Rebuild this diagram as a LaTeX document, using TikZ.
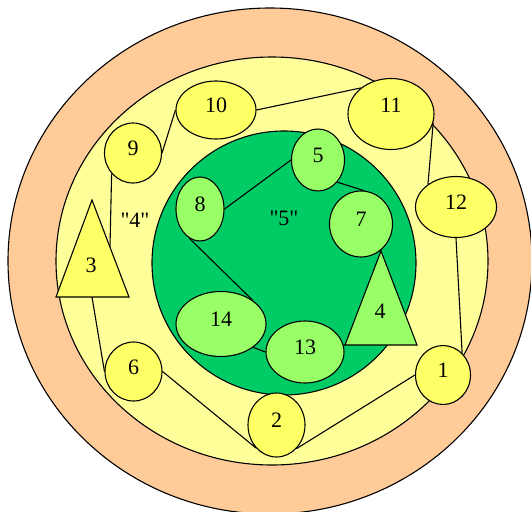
\documentclass[tikz,border=0pt]{standalone}
\usepackage{fontspec}
\setmainfont{Liberation Serif}[Ligatures=TeXOff]
\usetikzlibrary{shapes.geometric,calc}
\definecolor{peach}{HTML}{FFCC99}
\definecolor{paleyel}{HTML}{FFFF99}
\definecolor{nodeyel}{HTML}{FFFF66}
\definecolor{biggreen}{HTML}{00CC66}
\definecolor{litegreen}{HTML}{99FF66}
\tikzset{
  txt/.style={font=\fontsize{22}{26}\selectfont, inner sep=0pt},
  ell/.style={ellipse, draw=black, line width=1.1pt, inner sep=0pt, text height=15pt, text depth=10pt, font=\fontsize{22}{26}\selectfont},
  yel/.style={ell, fill=nodeyel},
  grn/.style={ell, fill=litegreen},
  edge/.style={draw=black, line width=1.1pt},
}
\begin{document}
\begin{tikzpicture}[x=1pt,y=-1pt]
\useasboundingbox (0,0) rectangle (531,512);
\clip (0,0) rectangle (531,512);
% rings
\draw[fill=peach, line width=1.1pt] (270,261) ellipse [x radius=262, y radius=253];
\draw[fill=paleyel, line width=1.1pt] (272,261) ellipse [x radius=216, y radius=204];
\draw[fill=biggreen, line width=1.1pt] (284,263) circle [radius=132];
% region labels
\node[txt] (lab4) at (135,220) {"4"};
\node[txt] (lab5) at (284,218) {"5"};
% triangles
\coordinate (t3a) at (92,200);
\coordinate (t3l) at (56,297);
\coordinate (t3r) at (129,297);
\coordinate (t3b) at (92,297);
\coordinate (t3e) at (110,247);
\draw[fill=nodeyel, line width=1.1pt, line join=miter] (t3a) -- (t3r) -- (t3l) -- cycle;
\node[txt] (t3) at (91,265) {3};
\coordinate (t4a) at (381,251);
\coordinate (t4l) at (345,345);
\coordinate (t4r) at (417,345);
\draw[fill=litegreen, line width=1.1pt, line join=miter] (t4a) -- (t4r) -- (t4l) -- cycle;
\node[txt] (t4) at (380,311) {4};
% nodes
\node[yel, minimum width=55pt, minimum height=59pt] (n1) at (443,375) {1};
\node[yel, minimum width=57pt, minimum height=64pt] (n2) at (276.5,425) {2};
\node[grn, minimum width=53pt, minimum height=62pt] (n5) at (318,160) {5};
\node[yel, minimum width=57pt, minimum height=59pt] (n6) at (133.5,371.5) {6};
\node[grn, minimum width=63pt, minimum height=66pt] (n7) at (361,224) {7};
\node[grn, minimum width=48pt, minimum height=64pt] (n8) at (200,209) {8};
\node[yel, minimum width=57pt, minimum height=60pt] (n9) at (133,153) {9};
\node[yel, minimum width=80pt, minimum height=58pt] (n10) at (216,110) {10};
\node[yel, minimum width=86pt, minimum height=71pt, text depth=18pt] (n11) at (391,114) {11};
\node[yel, minimum width=81pt, minimum height=61pt] (n12) at (456,207) {12};
\node[grn, minimum width=78pt, minimum height=62pt] (n13) at (305,352) {13};
\node[grn, minimum width=90pt, minimum height=65pt] (n14) at (221,324) {14};
% connectors
\draw[edge] (n9.east) -- (n10.west);
\draw[edge] (n10.east) -- (n11.139);
\draw[edge] (n11.-12) -- (n12.141);
\draw[edge] (n12.south) -- (n1.49);
\draw[edge] (n1.west) -- (n2.-50);
\draw[edge] (n6.east) -- (n2.-132);
\draw[edge] (t3b) -- (n6.west);
\draw[edge] (n9.-136) -- (t3e);
\draw[edge] (n5.west) -- (n8.east);
\draw[edge] (n5.-49) -- (n7.85);
\draw[edge] (n7) -- (t4a);
\draw[edge] (n13) -- (t4l);
\draw[edge] (n13.west) -- (n14.-36);
\draw[edge] (n14.37) -- (n8.-110);
\end{tikzpicture}
\end{document}
